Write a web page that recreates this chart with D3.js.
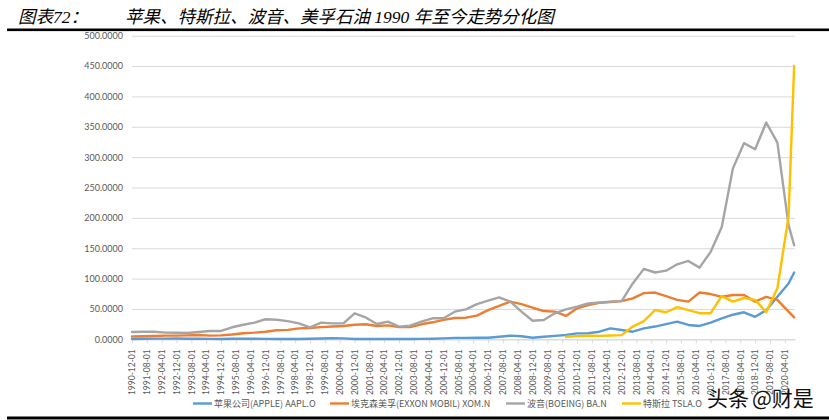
<!DOCTYPE html>
<html>
<head>
<meta charset="utf-8">
<script src="https://cdn.jsdelivr.net/npm/d3@7"></script>
<style>
  body { margin: 0; background: #fff; }
  svg { display: block; }
</style>
</head>
<body>
<div id="chart"></div>
<script>
//****data****
const dates = [
  "1990-12","1991-06","1991-12","1992-06","1992-12","1993-06","1993-12","1994-06","1994-12","1995-06",
  "1995-12","1996-06","1996-12","1997-06","1997-12","1998-06","1998-12","1999-06","1999-12","2000-06",
  "2000-12","2001-06","2001-12","2002-06","2002-12","2003-06","2003-12","2004-06","2004-12","2005-06",
  "2005-12","2006-06","2006-12","2007-06","2007-12","2008-06","2008-12","2009-06","2009-12","2010-06",
  "2010-12","2011-06","2011-12","2012-06","2012-12","2013-06","2013-12","2014-06","2014-12","2015-06",
  "2015-12","2016-06","2016-12","2017-06","2017-12","2018-06","2018-12","2019-06","2019-12","2020-06",
  "2020-09"
];

const apple = [
  0.6, 0.9, 1.1, 1.1, 1.2, 0.8, 0.9, 0.7, 0.6, 0.9,
  1.0, 0.9, 0.7, 0.5, 0.6, 0.5, 1.0, 1.4, 1.8, 1.6,
  0.5, 0.6, 0.6, 0.5, 0.5, 0.6, 0.7, 1.0, 1.6, 2.4,
  2.3, 2.6, 2.6, 4.3, 6.0, 5.0, 2.5, 4.3, 5.6, 7.0,
  9.8, 10.0, 12.5, 18.0, 15.3, 12.5, 18.0, 21.0, 25.0, 29.0,
  23.6, 22.0, 27.4, 34.6, 40.5, 44.5, 37.0, 48.0, 70.0, 92.0,
  110.0
];

const exxon = [
  4.5, 5.0, 5.5, 6.0, 6.0, 6.5, 7.0, 6.0, 6.5, 8.0,
  10.0, 11.0, 12.5, 15.0, 15.5, 18.0, 18.5, 20.0, 21.0, 22.0,
  24.0, 24.7, 22.0, 23.0, 20.0, 20.0, 24.7, 28.0, 32.0, 35.0,
  35.6, 39.0, 48.0, 55.0, 62.0, 58.0, 52.0, 46.5, 45.5, 38.4,
  51.0, 56.5, 60.0, 61.5, 63.0, 67.5, 76.0, 77.0, 71.0, 65.0,
  62.0, 77.0, 74.5, 70.0, 73.0, 73.0, 62.0, 70.0, 65.0, 45.5,
  36.0
];

const boeing = [
  12.0, 12.5, 12.5, 11.0, 10.8, 10.4, 12.0, 13.7, 13.7, 19.8,
  24.0, 27.4, 33.0, 32.3, 30.0, 26.3, 19.8, 27.4, 26.3, 26.3,
  42.8, 36.0, 25.2, 29.0, 20.8, 22.4, 29.0, 34.6, 34.6, 45.5,
  49.4, 58.0, 63.6, 69.0, 62.0, 45.5, 30.6, 31.8, 42.8, 49.4,
  53.7, 59.0, 60.5, 62.0, 63.0, 92.0, 116.0, 110.0, 113.0, 123.5,
  129.0, 118.0, 144.0, 185.0, 281.5, 323.0, 313.0, 357.0, 324.0, 188.0,
  155.0
];

const tesla = [
  null, null, null, null, null, null, null, null, null, null,
  null, null, null, null, null, null, null, null, null, null,
  null, null, null, null, null, null, null, null, null, null,
  null, null, null, null, null, null, null, null, null, 4.3,
  5.3, 5.8, 5.7, 6.3, 6.8, 21.0, 30.0, 48.0, 44.5, 53.0,
  48.0, 43.0, 43.0, 71.0, 62.0, 68.0, 65.0, 44.5, 84.0, 202.0,
  450.0
];

const tickDates = [
  "1990-12","1991-08","1992-04","1992-12","1993-08","1994-04","1994-12","1995-08","1996-04","1996-12",
  "1997-08","1998-04","1998-12","1999-08","2000-04","2000-12","2001-08","2002-04","2002-12","2003-08",
  "2004-04","2004-12","2005-08","2006-04","2006-12","2007-08","2008-04","2008-12","2009-08","2010-04",
  "2010-12","2011-08","2012-04","2012-12","2013-08","2014-04","2014-12","2015-08","2016-04","2016-12",
  "2017-08","2018-04","2018-12","2019-08","2020-04"
];

const yTicks = [0, 50, 100, 150, 200, 250, 300, 350, 400, 450, 500];

const seriesNames = ["苹果公司(APPLE) AAPL.O", "埃克森美孚(EXXON MOBIL) XOM.N", "波音(BOEING) BA.N", "特斯拉 TSLA.O"];
const seriesColors = ["#5B9BD5", "#ED7D31", "#A5A5A5", "#FFC000"];
const seriesValues = [apple, exxon, boeing, tesla];

//****layout****
const w = 829;
const h = 420;
const plotLeft = 132;
const plotRight = 795;
const plotTop = 35.7;
const plotBottom = 339.3;
const labelFont = "Lato, 'Noto Sans', sans-serif";
const cjkFont = "'Noto Sans CJK SC', 'Noto Sans', sans-serif";
const titleFont = "'Liberation Serif', 'Noto Sans CJK SC', serif";
const textGrey = "#595959";

const parseMonth = d3.timeParse("%Y-%m");

const svg = d3.select("#chart")
    .append("svg")
    .attr("width", w)
    .attr("height", h);

// title
svg.append("text")
    .attr("x", 18)
    .attr("y", 22.5)
    .attr("font-family", titleFont)
    .attr("font-style", "italic")
    .attr("font-size", 17.5)
    .attr("fill", "#000")
    .text("图表72：");

svg.append("text")
    .attr("x", 125)
    .attr("y", 22.5)
    .attr("font-family", titleFont)
    .attr("font-style", "italic")
    .attr("font-size", 17.5)
    .attr("fill", "#000")
    .text("苹果、特斯拉、波音、美孚石油 1990 年至今走势分化图");

svg.append("rect")
    .attr("x", 7)
    .attr("y", 28.5)
    .attr("width", w - 7)
    .attr("height", 2.6)
    .attr("fill", "#000");

svg.append("rect")
    .attr("x", 7)
    .attr("y", 416.5)
    .attr("width", w - 7)
    .attr("height", 3)
    .attr("fill", "#000");

//****scales****
const x = d3.scaleTime()
    .domain([parseMonth("1990-12"), new Date(2020, 8, 15)])
    .range([plotLeft, plotRight]);

const y = d3.scaleLinear()
    .domain([0, 500])
    .range([plotBottom, plotTop]);

// gridlines + y labels
const yAxis = d3.axisLeft(y)
    .tickValues(yTicks)
    .tickSize(-(plotRight - plotLeft))
    .tickPadding(9)
    .tickFormat(d3.format(".4f"));

const gy = svg.append("g")
    .attr("transform", "translate(" + plotLeft + ",0)")
    .call(yAxis);
gy.select(".domain").remove();
gy.selectAll(".tick line")
    .attr("stroke", "#d9d9d9")
    .attr("stroke-width", 1);
gy.selectAll(".tick text")
    .attr("font-family", labelFont)
    .attr("font-size", 9)
    .attr("fill", textGrey);

// x axis
const xAxis = d3.axisBottom(x)
    .tickValues(tickDates.map(parseMonth))
    .tickSize(4)
    .tickSizeOuter(0)
    .tickFormat(d3.timeFormat("%Y-%m-%d"));

const gx = svg.append("g")
    .attr("transform", "translate(0," + plotBottom + ")")
    .call(xAxis);
gx.select(".domain")
    .attr("stroke", "#d9d9d9");
gx.selectAll(".tick line")
    .attr("stroke", "#d9d9d9");
gx.selectAll(".tick text")
    .attr("font-family", labelFont)
    .attr("font-size", 8.5)
    .attr("fill", textGrey)
    .attr("text-anchor", "end")
    .attr("dy", "0.32em")
    .attr("transform", "translate(0,1) rotate(-90)")
    .attr("x", -9)
    .attr("y", 0);

//****lines****
const line = d3.line()
    .defined(d => d.v !== null)
    .x(d => x(d.date))
    .y(d => y(d.v));

seriesValues.forEach((vals, s) => {
    const pts = vals.map((v, i) => ({ date: parseMonth(dates[i]), v: v }));
    svg.append("path")
        .datum(pts)
        .attr("fill", "none")
        .attr("stroke", seriesColors[s])
        .attr("stroke-width", 2.4)
        .attr("stroke-linejoin", "round")
        .attr("stroke-linecap", "round")
        .attr("d", line);
});

//****legend****
const legendX = [193, 330, 506, 622];
const legendY = 403.5;
seriesNames.forEach((name, s) => {
    svg.append("line")
        .attr("x1", legendX[s])
        .attr("x2", legendX[s] + 19)
        .attr("y1", legendY)
        .attr("y2", legendY)
        .attr("stroke", seriesColors[s])
        .attr("stroke-width", 2.4);
    svg.append("text")
        .attr("x", legendX[s] + 21)
        .attr("y", legendY)
        .attr("dy", "0.35em")
        .attr("font-family", cjkFont)
        .attr("font-size", 9)
        .attr("fill", textGrey)
        .text(name);
});

// watermark
svg.append("text")
    .attr("x", 707)
    .attr("y", 406)
    .attr("font-family", cjkFont)
    .attr("font-size", 21)
    .attr("fill", "#111")
    .text("头条");
svg.append("text")
    .attr("x", 752)
    .attr("y", 406)
    .attr("font-family", cjkFont)
    .attr("font-size", 21)
    .attr("fill", "#111")
    .text("@财是");
</script>
</body>
</html>
